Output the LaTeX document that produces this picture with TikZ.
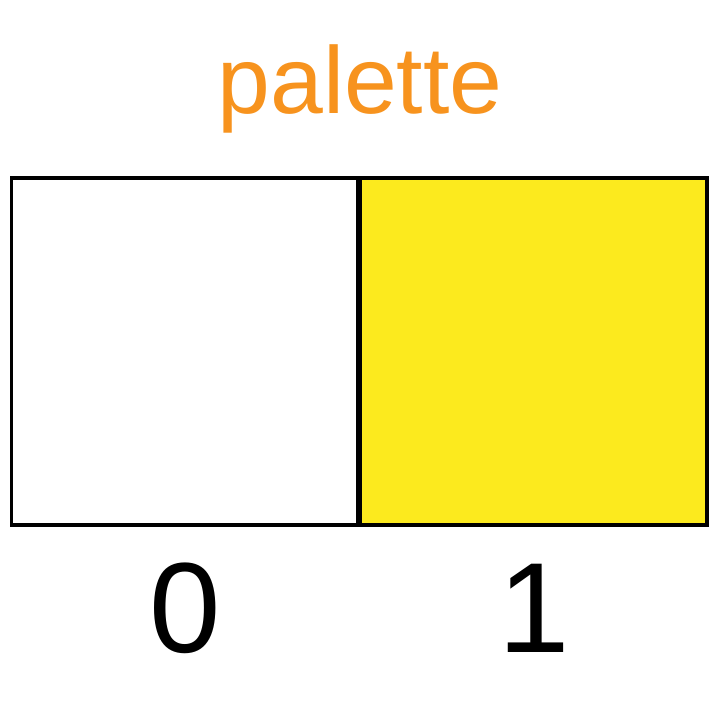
\documentclass[tikz,border=0pt]{standalone}
\usepackage{fontspec}
\setmainfont{Liberation Sans}
\usepackage{xcolor}
\usepackage{tikz}
\usetikzlibrary{positioning}
\definecolor{titlec}{HTML}{F7931E}
\definecolor{yelc}{HTML}{FCEA1E}
\tikzset{
  cell/.style={draw=black,line width=1pt,minimum width=3.475cm,minimum height=3.47cm,inner sep=0pt,outer sep=0pt},
  idx/.style={font=\fontsize{36.5}{40}\selectfont,anchor=base,inner sep=0pt}
}

\begin{document}
\begin{tikzpicture}[x=0.01cm,y=-0.01cm]
\useasboundingbox (0,0) rectangle (720,720);
\node[font=\fontsize{27}{30}\selectfont,text=titlec,anchor=base,inner sep=0pt] (title) at (360,113) {palette};
\node[cell,fill=white,anchor=north west] (cell0) at (11.5,178) {};
\node[cell,fill=yelc,anchor=north west] (cell1) at (cell0.north east) {};
\draw[line width=1.7pt] (cell0.north east) -- (cell0.south east);
\node[idx] (lab0) at (185,652) {0};
\node[idx] (lab1) at (534,652) {1};
\end{tikzpicture}
\end{document}
